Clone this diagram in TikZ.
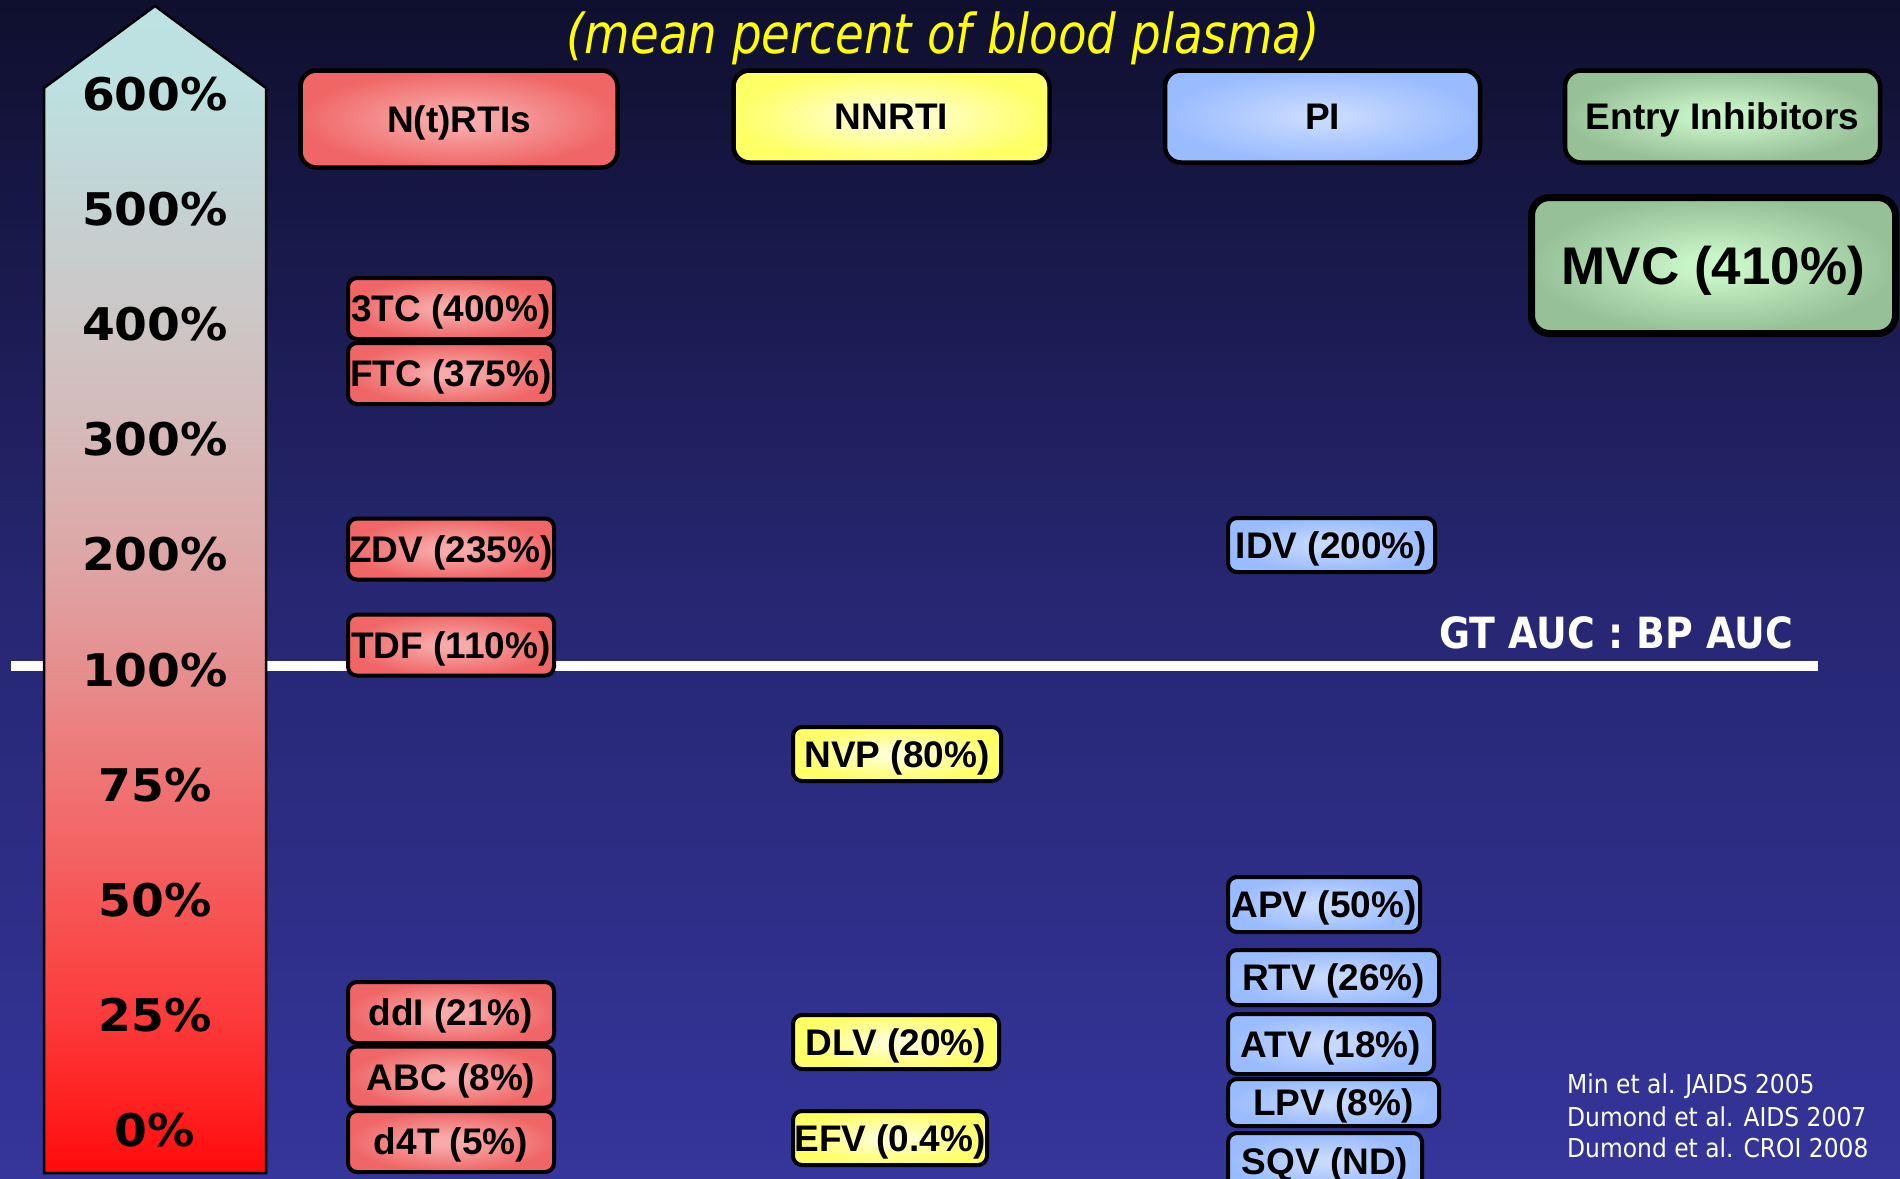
\documentclass[tikz,border=0pt]{standalone}
\usepackage{fontspec}
\setmainfont{Liberation Sans}
\newfontfamily\arialf{Liberation Sans}
\newfontfamily\verdf[FakeStretch=1.05]{DejaVu Sans}
\newfontfamily\tahf[FakeStretch=0.9]{DejaVu Sans}
\newfontfamily\gtf[FakeStretch=0.88]{DejaVu Sans}
\newfontfamily\subf[FakeStretch=0.85]{DejaVu Sans}
\newcommand\fsz[1]{\fontsize{#1bp}{#1bp}\selectfont}

\definecolor{bgtop}{HTML}{0F0F2E}
\definecolor{bgmid}{HTML}{262672}
\definecolor{bgbot}{HTML}{35359B}
\definecolor{subyel}{HTML}{FFFF00}

\definecolor{a0}{HTML}{FF0A0A}
\definecolor{a1}{HTML}{FF1A1A}
\definecolor{a2}{HTML}{FC3C3C}
\definecolor{a3}{HTML}{F65858}
\definecolor{a4}{HTML}{F07272}
\definecolor{a5}{HTML}{E68E8E}
\definecolor{a6}{HTML}{DEA6A6}
\definecolor{a7}{HTML}{D6B8B8}
\definecolor{a8}{HTML}{CDC6C6}
\definecolor{a9}{HTML}{C4D2D2}
\definecolor{a10}{HTML}{BDE0E0}
\definecolor{a11}{HTML}{BDE2E2}

\definecolor{redin}{HTML}{F8AAAA}
\definecolor{redout}{HTML}{F06666}
\definecolor{yelin}{HTML}{FFFFD2}
\definecolor{yelout}{HTML}{FFFF66}
\definecolor{bluin}{HTML}{C6D9FF}
\definecolor{bluout}{HTML}{99BBFF}
\definecolor{grnin}{HTML}{C8F5C8}
\definecolor{grnout}{HTML}{96C096}

\pgfdeclareverticalshading{bggrad}{100bp}{color(0bp)=(bgbot); color(25bp)=(bgbot); color(50bp)=(bgmid); color(75bp)=(bgtop); color(100bp)=(bgtop)}
\pgfdeclareverticalshading{arrowgrad}{100bp}{color(0bp)=(a0); color(25bp)=(a0); color(27bp)=(a1); color(32bp)=(a2); color(37bp)=(a3); color(41.5bp)=(a4); color(46.5bp)=(a5); color(51.5bp)=(a6); color(56.5bp)=(a7); color(61.5bp)=(a8); color(66.5bp)=(a9); color(71.5bp)=(a10); color(75bp)=(a11); color(100bp)=(a11)}
\newcommand\mkglow[3]{\pgfdeclareradialshading{#1}{\pgfpointorigin}{color(0bp)=(#2); color(4bp)=(#2); color(13bp)=(#2!55!#3); color(25bp)=(#3); color(50bp)=(#3)}}
\mkglow{glowred}{redin}{redout}
\mkglow{glowyel}{yelin}{yelout}
\mkglow{glowblu}{bluin}{bluout}
\mkglow{glowgrn}{grnin}{grnout}

\begin{document}
\begin{tikzpicture}[x=1bp,y=-1bp,
  scalelbl/.style={font=\verdf\bfseries\fsz{45}, text=black, inner sep=0pt, text height=32.8bp, text depth=0pt},
  hdr/.style={shade, draw=black, line width=4.5bp, rounded corners=16bp, inner sep=0pt,
    font=\arialf\bfseries\fsz{37}, text=black, text height=26.5bp, text depth=0pt},
  drug/.style={shade, draw=black, line width=4bp, rounded corners=9bp, inner sep=0pt,
    font=\arialf\bfseries\fsz{37}, text=black, text height=26.5bp, text depth=0pt},
  redbox/.style={drug, shading=glowred, minimum width=206bp, minimum height=61bp},
  yelbox/.style={drug, shading=glowyel, minimum height=54bp},
  blubox/.style={drug, shading=glowblu, minimum height=55bp},
  cite/.style={font=\tahf\fsz{26}, text=white, inner sep=0pt, anchor=base west}
]
\useasboundingbox (0,0) rectangle (1900,1178);
\shade[shading=bggrad] (0,0) rectangle (1900,1178);

% subtitle
\node[font=\subf\itshape\fsz{55}, text=subyel, inner sep=0pt] (sub) at (943,38) {(mean percent of blood plasma)};

% reference line
\coordinate (lineL) at (11,666);
\coordinate (lineR) at (1818,666);
\draw[white, line width=10bp] (lineL) -- (lineR);
\node[font=\gtf\bfseries\fsz{43}, text=white, inner sep=0pt, text height=31.3bp, text depth=0pt] (gt) at (1616,633) {GT AUC : BP AUC};

% scale arrow
\shadedraw[shading=arrowgrad, draw=black, line width=2.5bp] (44,1173) -- (44,88) -- (155,6) -- (266,88) -- (266,1173) -- cycle;
\node[scalelbl] (l600) at (155,94) {600\%};
\node[scalelbl] (l500) at (155,209.1) {500\%};
\node[scalelbl] (l400) at (155,324.2) {400\%};
\node[scalelbl] (l300) at (155,439.3) {300\%};
\node[scalelbl] (l200) at (155,554.4) {200\%};
\node[scalelbl] (l100) at (155,669.6) {100\%};
\node[scalelbl] (l75) at (155,784.7) {75\%};
\node[scalelbl] (l50) at (155,899.8) {50\%};
\node[scalelbl] (l25) at (155,1014.9) {25\%};
\node[scalelbl] (l0) at (155,1130) {0\%};

% headers
\node[hdr, shading=glowred, minimum width=317bp, minimum height=97bp] (hn) at (459,119) {N(t)RTIs};
\node[hdr, shading=glowyel, minimum width=316bp, minimum height=92bp] (hnn) at (891.5,116.5) {NNRTI};
\node[hdr, shading=glowblu, minimum width=315bp, minimum height=92bp] (hpi) at (1322.5,116.5) {PI};
\node[hdr, shading=glowgrn, minimum width=315bp, minimum height=92bp] (hei) at (1722.5,116.5) {Entry Inhibitors};
\node[hdr, shading=glowgrn, line width=7bp, rounded corners=18bp, minimum width=364bp, minimum height=136bp,
  font=\arialf\bfseries\fsz{53}, text height=38bp] (mvc) at (1713.5,265.5) {MVC (410\%)};

% N(t)RTIs
\node[redbox] (tc3) at (451,308.5) {3TC (400\%)};
\node[redbox] (ftc) at (451,373.5) {FTC (375\%)};
\node[redbox] (zdv) at (451,549) {ZDV (235\%)};
\node[redbox] (tdf) at (451,645) {TDF (110\%)};
\node[redbox] (ddi) at (451,1012.5) {ddI (21\%)};
\node[redbox] (abc) at (451,1077) {ABC (8\%)};
\node[redbox] (d4t) at (451,1141.5) {d4T (5\%)};

% NNRTI
\node[yelbox, minimum width=208bp] (nvp) at (897,754) {NVP (80\%)};
\node[yelbox, minimum width=206bp] (dlv) at (896,1042) {DLV (20\%)};
\node[yelbox, minimum width=194bp] (efv) at (890,1138) {EFV (0.4\%)};

% PI
\node[blubox, minimum width=207bp, minimum height=54bp] (idv) at (1331.5,545) {IDV (200\%)};
\node[blubox, minimum width=192bp] (apv) at (1324,904.5) {APV (50\%)};
\node[blubox, minimum width=211bp] (rtv) at (1333.5,977.5) {RTV (26\%)};
\node[blubox, minimum width=206bp, minimum height=60bp] (atv) at (1331,1044) {ATV (18\%)};
\node[blubox, minimum width=211bp, minimum height=47bp] (lpv) at (1333.5,1102.5) {LPV (8\%)};
\node[blubox, minimum width=194bp, minimum height=56bp] (sqv) at (1325,1161) {SQV (ND)};

% citations
\node[cite] (c1) at (1567,1093) {Min et al. JAIDS 2005};
\node[cite] (c2) at (1567,1126) {Dumond et al. AIDS 2007};
\node[cite] (c3) at (1567,1157) {Dumond et al. CROI 2008};
\end{tikzpicture}
\end{document}
